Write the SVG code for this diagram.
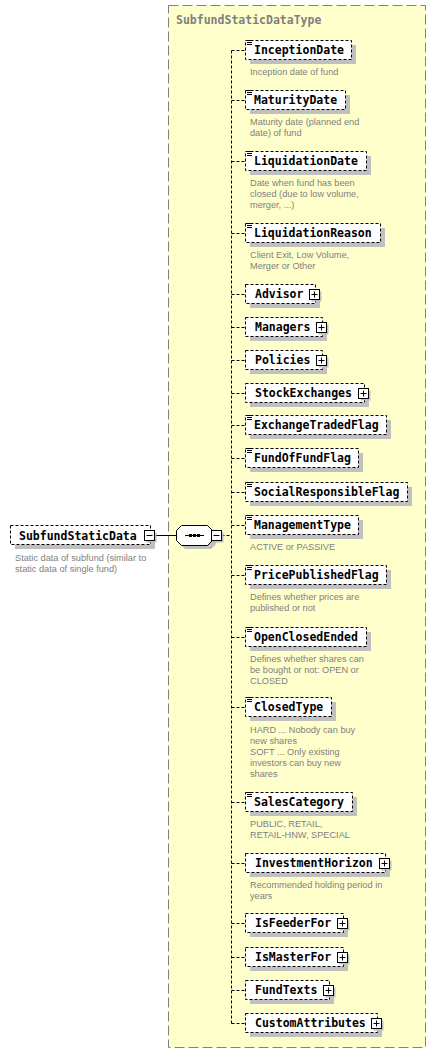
<svg xmlns="http://www.w3.org/2000/svg" width="436" height="1054" viewBox="0 0 436 1054">
<style>
.cont{fill:#ffffcc;stroke:#808080;stroke-width:1;stroke-dasharray:10,4}
.title{font-family:"DejaVu Sans Mono","Liberation Mono",monospace;font-weight:bold;font-size:11.5px;fill:#808080}
.box{fill:#ffffff;stroke:#000;stroke-width:1;stroke-dasharray:3,2}
.sh{fill:#c0c0c0}
.lbl{font-family:"DejaVu Sans Mono","Liberation Mono",monospace;font-weight:bold;font-size:11.5px;fill:#000}
.desc{font-family:"Liberation Sans",Arial,sans-serif;font-size:9.2px;fill:#808080}
.ico{stroke:#000;stroke-width:1;fill:none}
.btn{fill:#fff;stroke:#000;stroke-width:1}
.con{stroke:#000;stroke-width:1;fill:none;stroke-dasharray:3,2}
.solid{stroke:#000;stroke-width:1;fill:none}
</style>
<rect class="cont" x="168.5" y="5.5" width="257" height="1042"/>
<text class="title" x="176" y="24">SubfundStaticDataType</text>

<g id="connectors">
<path class="solid" d="M155 535.5H176.5"/>
<path class="con" d="M221.5 535.5H231.5"/>
<path class="con" d="M231.5 50.5V1023.5"/>
<path class="con" d="M231.5 50.5H245.5M231.5 100.5H245.5M231.5 161.5H245.5M231.5 233.5H245.5M231.5 294.5H245.5M231.5 327.5H245.5M231.5 360.5H245.5M231.5 393.5H245.5M231.5 425.5H245.5M231.5 458.5H245.5M231.5 492.5H245.5M231.5 525.5H245.5M231.5 575.5H245.5M231.5 637.5H245.5M231.5 707.5H245.5M231.5 802.5H245.5M231.5 863.5H245.5M231.5 923.5H245.5M231.5 957.5H245.5M231.5 990.5H245.5M231.5 1023.5H245.5"/>
</g>

<g id="SubfundStaticData">
<rect class="sh" x="15" y="530" width="140" height="19"/>
<rect class="box" x="10.5" y="525.5" width="140" height="19"/>
<text class="lbl" x="19" y="540">SubfundStaticData</text>
<rect class="sh" x="146.5" y="532.5" width="10" height="10"/>
<rect class="btn" x="144.5" y="530.5" width="10" height="10"/>
<path class="ico" d="M146.5 535.5H152.5"/>
<text class="desc" x="15" y="561">Static data of subfund (similar to</text>
<text class="desc" x="15" y="572">static data of single fund)</text>
</g>

<g id="sequence">
<polygon class="sh" points="180,534 185,529 211,529 216,534 216,544 211,549 185,549 180,544"/>
<polygon class="btn" points="176.5,530.5 181.5,525.5 207.5,525.5 212.5,530.5 212.5,540.5 207.5,545.5 181.5,545.5 176.5,540.5"/>
<path class="solid" d="M185 535.5H204"/>
<rect x="189" y="534" width="3" height="3" fill="#000"/>
<rect x="193" y="534" width="3" height="3" fill="#000"/>
<rect x="197" y="534" width="3" height="3" fill="#000"/>
<rect class="sh" x="213.5" y="532.5" width="10" height="10"/>
<rect class="btn" x="211.5" y="530.5" width="10" height="10"/>
<path class="ico" d="M213.5 535.5H219.5"/>
</g>

<g id="InceptionDate">
<rect class="sh" x="250" y="45" width="106" height="19"/>
<rect class="box" x="245.5" y="40.5" width="106" height="19"/>
<path class="ico" d="M247 40.5h5M247 42.5h5M247 44.5h5"/>
<text class="lbl" x="254" y="54">InceptionDate</text>
<text class="desc" x="250" y="75">Inception date of fund</text>
</g>

<g id="MaturityDate">
<rect class="sh" x="250" y="95" width="100" height="19"/>
<rect class="box" x="245.5" y="90.5" width="100" height="19"/>
<path class="ico" d="M247 90.5h5M247 92.5h5M247 94.5h5"/>
<text class="lbl" x="254" y="104">MaturityDate</text>
<text class="desc" x="250" y="125">Maturity date (planned end</text>
<text class="desc" x="250" y="136">date) of fund</text>
</g>

<g id="LiquidationDate">
<rect class="sh" x="250" y="156" width="121" height="19"/>
<rect class="box" x="245.5" y="151.5" width="121" height="19"/>
<path class="ico" d="M247 151.5h5M247 153.5h5M247 155.5h5"/>
<text class="lbl" x="254" y="165">LiquidationDate</text>
<text class="desc" x="250" y="186">Date when fund has been</text>
<text class="desc" x="250" y="197">closed (due to low volume,</text>
<text class="desc" x="250" y="208">merger, ...)</text>
</g>

<g id="LiquidationReason">
<rect class="sh" x="250" y="228" width="135" height="19"/>
<rect class="box" x="245.5" y="223.5" width="135" height="19"/>
<path class="ico" d="M247 223.5h5M247 225.5h5M247 227.5h5"/>
<text class="lbl" x="254" y="237">LiquidationReason</text>
<text class="desc" x="250" y="258">Client Exit, Low Volume,</text>
<text class="desc" x="250" y="269">Merger or Other</text>
</g>

<g id="Advisor">
<rect class="sh" x="250" y="289" width="70" height="19"/>
<rect class="box" x="245.5" y="284.5" width="70" height="19"/>
<text class="lbl" x="255" y="298">Advisor</text>
<rect class="sh" x="311.5" y="291.5" width="10" height="10"/>
<rect class="btn" x="309.5" y="289.5" width="10" height="10"/>
<path class="ico" d="M311.5 294.5h6M314.5 291.5v6"/>
</g>

<g id="Managers">
<rect class="sh" x="250" y="322" width="77" height="19"/>
<rect class="box" x="245.5" y="317.5" width="77" height="19"/>
<text class="lbl" x="255" y="331">Managers</text>
<rect class="sh" x="318.5" y="324.5" width="10" height="10"/>
<rect class="btn" x="316.5" y="322.5" width="10" height="10"/>
<path class="ico" d="M318.5 327.5h6M321.5 324.5v6"/>
</g>

<g id="Policies">
<rect class="sh" x="250" y="355" width="77" height="19"/>
<rect class="box" x="245.5" y="350.5" width="77" height="19"/>
<text class="lbl" x="255" y="364">Policies</text>
<rect class="sh" x="318.5" y="357.5" width="10" height="10"/>
<rect class="btn" x="316.5" y="355.5" width="10" height="10"/>
<path class="ico" d="M318.5 360.5h6M321.5 357.5v6"/>
</g>

<g id="StockExchanges">
<rect class="sh" x="250" y="388" width="119" height="19"/>
<rect class="box" x="245.5" y="383.5" width="119" height="19"/>
<text class="lbl" x="255" y="397">StockExchanges</text>
<rect class="sh" x="360.5" y="390.5" width="10" height="10"/>
<rect class="btn" x="358.5" y="388.5" width="10" height="10"/>
<path class="ico" d="M360.5 393.5h6M363.5 390.5v6"/>
</g>

<g id="ExchangeTradedFlag">
<rect class="sh" x="250" y="420" width="141" height="19"/>
<rect class="box" x="245.5" y="415.5" width="141" height="19"/>
<path class="ico" d="M247 415.5h5M247 417.5h5M247 419.5h5"/>
<text class="lbl" x="254" y="429">ExchangeTradedFlag</text>
</g>

<g id="FundOfFundFlag">
<rect class="sh" x="250" y="453" width="113" height="19"/>
<rect class="box" x="245.5" y="448.5" width="113" height="19"/>
<path class="ico" d="M247 448.5h5M247 450.5h5M247 452.5h5"/>
<text class="lbl" x="254" y="462">FundOfFundFlag</text>
</g>

<g id="SocialResponsibleFlag">
<rect class="sh" x="250" y="487" width="162" height="19"/>
<rect class="box" x="245.5" y="482.5" width="162" height="19"/>
<path class="ico" d="M247 482.5h5M247 484.5h5M247 486.5h5"/>
<text class="lbl" x="254" y="496">SocialResponsibleFlag</text>
</g>

<g id="ManagementType">
<rect class="sh" x="250" y="520" width="113" height="19"/>
<rect class="box" x="245.5" y="515.5" width="113" height="19"/>
<path class="ico" d="M247 515.5h5M247 517.5h5M247 519.5h5"/>
<text class="lbl" x="254" y="529">ManagementType</text>
<text class="desc" x="250" y="550">ACTIVE or PASSIVE</text>
</g>

<g id="PricePublishedFlag">
<rect class="sh" x="250" y="570" width="141" height="19"/>
<rect class="box" x="245.5" y="565.5" width="141" height="19"/>
<path class="ico" d="M247 565.5h5M247 567.5h5M247 569.5h5"/>
<text class="lbl" x="254" y="579">PricePublishedFlag</text>
<text class="desc" x="250" y="600">Defines whether prices are</text>
<text class="desc" x="250" y="611">published or not</text>
</g>

<g id="OpenClosedEnded">
<rect class="sh" x="250" y="632" width="121" height="19"/>
<rect class="box" x="245.5" y="627.5" width="121" height="19"/>
<path class="ico" d="M247 627.5h5M247 629.5h5M247 631.5h5"/>
<text class="lbl" x="254" y="641">OpenClosedEnded</text>
<text class="desc" x="250" y="662">Defines whether shares can</text>
<text class="desc" x="250" y="673">be bought or not: OPEN or</text>
<text class="desc" x="250" y="684">CLOSED</text>
</g>

<g id="ClosedType">
<rect class="sh" x="250" y="702" width="86" height="19"/>
<rect class="box" x="245.5" y="697.5" width="86" height="19"/>
<path class="ico" d="M247 697.5h5M247 699.5h5M247 701.5h5"/>
<text class="lbl" x="254" y="711">ClosedType</text>
<text class="desc" x="250" y="733">HARD ... Nobody can buy</text>
<text class="desc" x="250" y="744">new shares</text>
<text class="desc" x="250" y="755">SOFT ... Only existing</text>
<text class="desc" x="250" y="766">investors can buy new</text>
<text class="desc" x="250" y="777">shares</text>
</g>

<g id="SalesCategory">
<rect class="sh" x="250" y="797" width="107" height="19"/>
<rect class="box" x="245.5" y="792.5" width="107" height="19"/>
<path class="ico" d="M247 792.5h5M247 794.5h5M247 796.5h5"/>
<text class="lbl" x="254" y="806">SalesCategory</text>
<text class="desc" x="250" y="827">PUBLIC, RETAIL,</text>
<text class="desc" x="250" y="838">RETAIL-HNW, SPECIAL</text>
</g>

<g id="InvestmentHorizon">
<rect class="sh" x="250" y="858" width="140" height="19"/>
<rect class="box" x="245.5" y="853.5" width="140" height="19"/>
<text class="lbl" x="255" y="867">InvestmentHorizon</text>
<rect class="sh" x="381.5" y="860.5" width="10" height="10"/>
<rect class="btn" x="379.5" y="858.5" width="10" height="10"/>
<path class="ico" d="M381.5 863.5h6M384.5 860.5v6"/>
<text class="desc" x="250" y="888">Recommended holding period in</text>
<text class="desc" x="250" y="899">years</text>
</g>

<g id="IsFeederFor">
<rect class="sh" x="250" y="918" width="98" height="19"/>
<rect class="box" x="245.5" y="913.5" width="98" height="19"/>
<text class="lbl" x="255" y="927">IsFeederFor</text>
<rect class="sh" x="339.5" y="920.5" width="10" height="10"/>
<rect class="btn" x="337.5" y="918.5" width="10" height="10"/>
<path class="ico" d="M339.5 923.5h6M342.5 920.5v6"/>
</g>

<g id="IsMasterFor">
<rect class="sh" x="250" y="952" width="98" height="19"/>
<rect class="box" x="245.5" y="947.5" width="98" height="19"/>
<text class="lbl" x="255" y="961">IsMasterFor</text>
<rect class="sh" x="339.5" y="954.5" width="10" height="10"/>
<rect class="btn" x="337.5" y="952.5" width="10" height="10"/>
<path class="ico" d="M339.5 957.5h6M342.5 954.5v6"/>
</g>

<g id="FundTexts">
<rect class="sh" x="250" y="985" width="84" height="19"/>
<rect class="box" x="245.5" y="980.5" width="84" height="19"/>
<text class="lbl" x="255" y="994">FundTexts</text>
<rect class="sh" x="325.5" y="987.5" width="10" height="10"/>
<rect class="btn" x="323.5" y="985.5" width="10" height="10"/>
<path class="ico" d="M325.5 990.5h6M328.5 987.5v6"/>
</g>

<g id="CustomAttributes">
<rect class="sh" x="250" y="1018" width="132" height="19"/>
<rect class="box" x="245.5" y="1013.5" width="132" height="19"/>
<text class="lbl" x="255" y="1027">CustomAttributes</text>
<rect class="sh" x="373.5" y="1020.5" width="10" height="10"/>
<rect class="btn" x="371.5" y="1018.5" width="10" height="10"/>
<path class="ico" d="M373.5 1023.5h6M376.5 1020.5v6"/>
</g>
</svg>
